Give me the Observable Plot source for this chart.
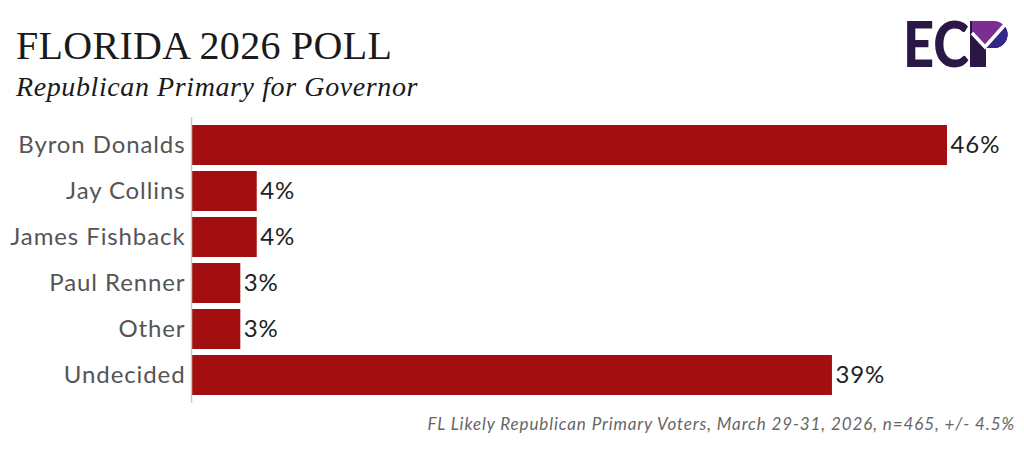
<!DOCTYPE html>
<html>
<head>
<meta charset="utf-8">
<script src="https://cdn.jsdelivr.net/npm/d3@7"></script>
<script src="https://cdn.jsdelivr.net/npm/@observablehq/plot@0.6"></script>
<style>
  html, body { margin: 0; padding: 0; background: #fff; }
  #wrap { position: relative; width: 1024px; height: 454px; overflow: hidden; background: #fff; }
  #title { position: absolute; left: 16px; top: 26px; font-family: "Liberation Serif", serif; font-size: 40px; color: #1a1a1a; white-space: nowrap; line-height: 1; letter-spacing: 0.3px; }
  #subtitle { position: absolute; left: 16px; top: 73px; font-family: "Liberation Serif", serif; font-style: italic; font-size: 28px; color: #1a1a1a; white-space: nowrap; line-height: 1; letter-spacing: 0.6px; }
  #caption { position: absolute; right: 9px; top: 415px; font-family: "Lato", sans-serif; font-style: italic; font-size: 17px; color: #666; white-space: nowrap; line-height: 1; letter-spacing: 0.9px; }
  #chart { position: absolute; left: 0; top: 110px; }
  #logo { position: absolute; left: 900px; top: 15px; overflow: visible; }
</style>
</head>
<body>
<div id="wrap">
  <div id="title">FLORIDA 2026 POLL</div>
  <div id="subtitle">Republican Primary for Governor</div>
  <svg id="logo" width="115" height="56" viewBox="0 0 115 56">
    <defs>
      <clipPath id="bowl"><path d="M72 6 H94 A13.5 13.5 0 0 1 94 33 H86 V52 H72 Z"/></clipPath>
    </defs>
    <text x="3" y="52" font-family="Lato, sans-serif" font-weight="900" font-size="62" fill="#2a1745" textLength="66" lengthAdjust="spacingAndGlyphs">EC</text>
    <rect x="70" y="6" width="16" height="46" fill="#2a1745"/>
    <g clip-path="url(#bowl)">
      <path d="M72 6 H110 V40 H72 Z" fill="#7b2d91"/>
      <path d="M72 18 L85 32 L110 6 V40 H72 Z" fill="#2a1745"/>
      <path d="M85 32 L110 6 V40 H86 Z" fill="#33288a"/>
    </g>
    <path d="M72 18 L85 32 L110 4" stroke="#fff" stroke-width="3.5" fill="none"/>
  </svg>
  <div id="chart"></div>
  <div id="caption">FL Likely Republican Primary Voters, March 29-31, 2026, n=465, +/- 4.5%</div>
</div>
<script>
const candidates = ["Byron Donalds", "Jay Collins", "James Fishback", "Paul Renner", "Other", "Undecided"];
const shares = [46, 4, 4, 3, 3, 39];
const valueLabels = ["46%", "4%", "4%", "3%", "3%", "39%"];

const data = candidates.map((c, i) => ({name: c, value: shares[i], label: valueLabels[i]}));

const chart = Plot.plot({
  width: 1024,
  height: 300,
  marginLeft: 191,
  marginRight: 77,
  marginTop: 7,
  marginBottom: 7,
  style: {fontFamily: "Lato, sans-serif", background: "transparent", letterSpacing: "0.9px"},
  x: {domain: [0, d3.max(shares)], axis: null},
  y: {domain: candidates, padding: 0.12, label: null},
  marks: [
    Plot.barX(data, {x: "value", y: "name", fill: "#a30f10"}),
    Plot.ruleX([0], {stroke: "#cccccc", strokeWidth: 1.5}),
    Plot.axisY({tickSize: 0, tickPadding: 6, fontSize: 24, color: "#555", label: null}),
    Plot.text(data, {x: "value", y: "name", text: "label", textAnchor: "start", dx: 3, fontSize: 24, fill: "#222"})
  ]
});
document.getElementById("chart").appendChild(chart);
</script>
</body>
</html>
